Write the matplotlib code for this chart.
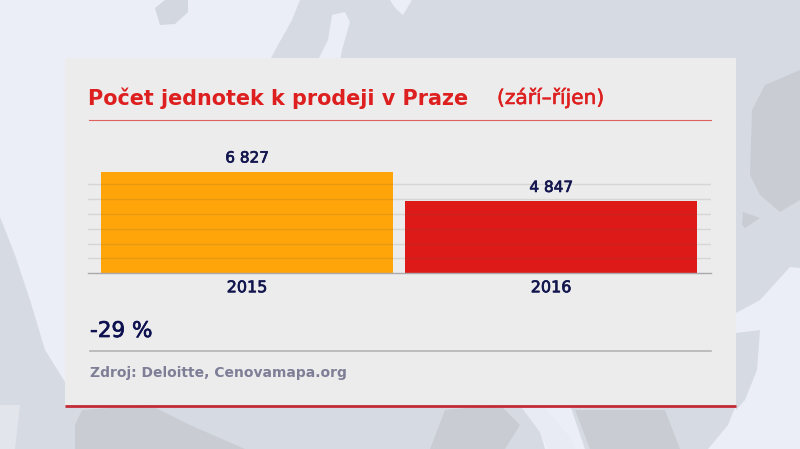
import matplotlib.pyplot as plt
import matplotlib.patheffects as pe
from matplotlib.patches import Polygon, Rectangle

years = ['2015', '2016']
units = [6827, 4847]
value_labels = ['6 827', '4 847']
bar_colors = ['#ffa50a', '#dd1a18']
grid_ticks = [1000, 2000, 3000, 4000, 5000, 6000]

navy = '#14174f'
red = '#de1f1f'

plt.rcParams['font.family'] = 'DejaVu Sans'

# DejaVu has no semibold, so thicken the regular a bit
semi = [pe.withStroke(linewidth=0.5, foreground=navy)]

W, H = 800, 449
fig = plt.figure(figsize=(8, 4.49), dpi=100)

# background map + panel, in pixel coords
bg = fig.add_axes([0, 0, 1, 1], zorder=0)
bg.set_xlim(0, W)
bg.set_ylim(H, 0)
bg.axis('off')
bg.add_patch(Rectangle((0, 0), W, H, color='#ebeef6', lw=0))

land = '#d6dae2'
dark = '#c9cdd3'
shapes = [
    # north/east land mass
    ([(300, 0), (292, 20), (278, 45), (255, 88), (312, 88), (318, 60), (328, 40), (332, 15),
      (345, 12), (350, 22), (342, 50), (335, 88), (736, 88), (736, 313), (760, 300),
      (790, 267), (800, 268), (800, 0), (412, 0), (403, 15), (395, 8), (390, 0)], land),
    ([(736, 333), (760, 330), (757, 370), (745, 400), (736, 410)], land),
    # south-west
    ([(0, 217), (15, 255), (30, 300), (45, 350), (65, 382), (65, 405), (520, 405), (540, 432),
      (545, 449), (0, 449)], land),
    ([(570, 405), (736, 405), (728, 425), (708, 449), (585, 449)], land),
    ([(0, 405), (20, 405), (15, 449), (0, 449)], '#e2e5ec'),
    # darker patches
    ([(75, 425), (82, 410), (150, 405), (190, 425), (245, 449), (75, 449)], dark),
    ([(430, 449), (445, 410), (500, 405), (520, 425), (505, 449)], dark),
    ([(575, 410), (665, 410), (680, 449), (590, 449)], dark),
    ([(752, 110), (765, 85), (800, 70), (800, 200), (780, 212), (760, 195), (750, 175)], dark),
    ([(743, 212), (760, 218), (745, 228), (742, 225)], dark),
]
for pts, col in shapes:
    bg.add_patch(Polygon(pts, closed=True, color=col, lw=0))
# inlet + lake in the top strip
bg.add_patch(Polygon([(520, 405), (545, 408), (572, 440), (575, 449), (548, 449), (540, 432)],
                     closed=True, color='#e8ebf4', lw=0))
bg.add_patch(Polygon([(155, 8), (165, 0), (188, 0), (188, 12), (175, 24), (160, 25)],
                     closed=True, color='#d3d7df', lw=0))

bg.add_patch(Rectangle((65, 58), 671, 347, color='#ececec', lw=0))
bg.plot([65, 736], [405.8, 405.8], color='#c42b36', lw=2, solid_capstyle='butt')
bg.plot([89, 711], [119.5, 119.5], color='#e06060', lw=0.8)
bg.plot([90, 711], [351, 351], color='#b4b4b6', lw=1.2)

bg.text(88, 98, 'Počet jednotek k prodeji v Praze', color=red, fontsize=14.95,
        fontweight='bold', va='center', ha='left')
bg.text(497, 98, '(září–říjen)', color=red, fontsize=14.5, va='center', ha='left',
        path_effects=[pe.withStroke(linewidth=0.4, foreground=red)])
bg.text(90, 331, '-29 %', color='#0e1150', fontsize=15.5, va='center', ha='left',
        path_effects=[pe.withStroke(linewidth=0.5, foreground='#0e1150')])
bg.text(90, 373, 'Zdroj: Deloitte, Cenovamapa.org', color='#7e7f97', fontsize=9.98,
        va='center', ha='left', fontweight='bold')

# chart area x 88-711, baseline y=273.3
ax = fig.add_axes([88 / W, 1 - 273.3 / H, 623 / W, 101.6 * 1.3 / H], zorder=1)
ax.patch.set_alpha(0)
pos = [0, 1]
ax.bar(pos, units, width=0.96, color=bar_colors, zorder=2)
ax.set_xlim(-0.523, 1.526)
ax.set_ylim(0, 6827 * 1.3)
for t in grid_ticks:
    ax.axhline(t, color='#6a5a40', alpha=0.15, lw=1, zorder=3)
ax.axhline(0, color='#a9a9ad', lw=1, zorder=3, clip_on=False)

for i, v in enumerate(units):
    ax.annotate(value_labels[i], (pos[i], v), xytext=(0, 4.5), textcoords='offset points',
                ha='center', va='bottom', color=navy, fontsize=11, path_effects=semi)

ax.set_xticks(pos)
ax.set_xticklabels(years, color=navy, fontsize=11.5, path_effects=semi)
ax.tick_params(axis='x', length=0, pad=5)
ax.set_yticks([])
for s in ax.spines.values():
    s.set_visible(False)

fig.savefig('out.png', dpi=100)
